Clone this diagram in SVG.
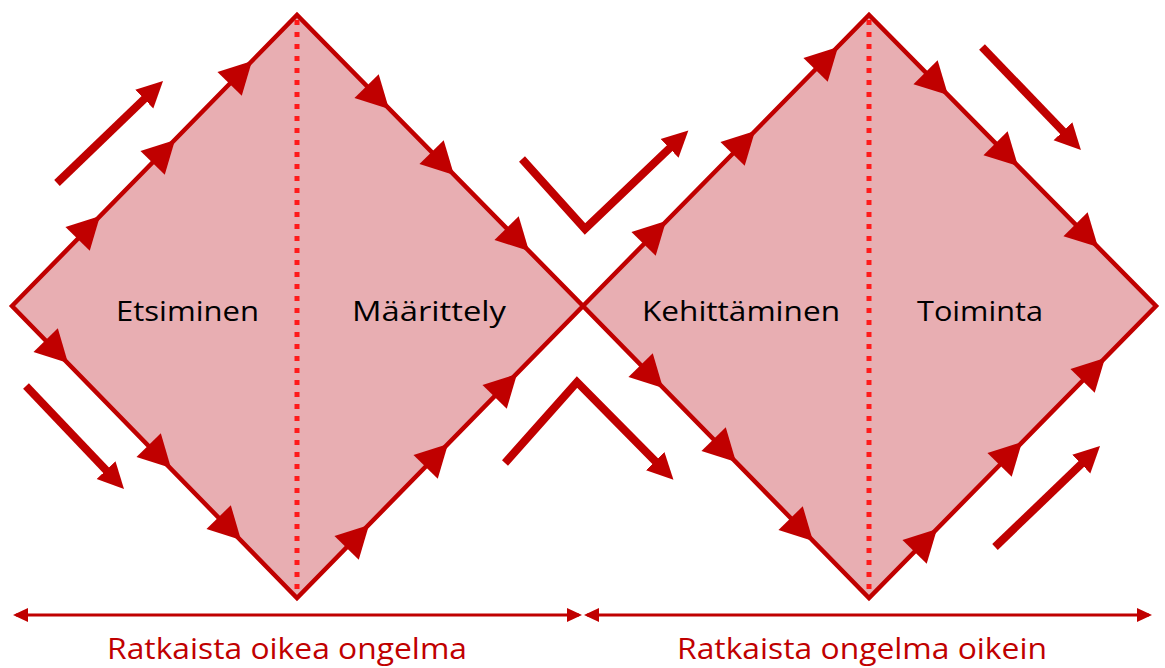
<svg xmlns="http://www.w3.org/2000/svg" xmlns:xlink="http://www.w3.org/1999/xlink" width="1165" height="668" viewBox="0 0 1165 668">
  <style>
    .diamond { fill: #E8AEB2; stroke: #C00000; stroke-width: 4.5; stroke-linejoin: miter; }
    .divider { fill: none; stroke: #FF1A1A; stroke-width: 5; stroke-dasharray: 5 7; }
    .head { fill: #C00000; }
    .flow { fill: none; stroke: #C00000; stroke-width: 8; stroke-linejoin: miter; stroke-linecap: butt; marker-end: url(#bigHead); }
    .span { fill: none; stroke: #C00000; stroke-width: 3; marker-start: url(#smallHead); marker-end: url(#smallHead); }
    .phase { font-family: "Open Sans", Lato, "Liberation Sans", sans-serif; font-size: 28px; fill: #000; text-anchor: middle; }
    .goal { font-family: "Open Sans", Lato, "Liberation Sans", sans-serif; font-size: 30px; fill: #C00000; text-anchor: middle; }
  </style>
  <defs>
    <!-- triangular arrowhead sitting on a diamond edge, tip at the origin pointing along +x -->
    <path id="edgeHead" class="head" d="M0,0 L-32,-17 L-32,17 Z"/>
    <marker id="bigHead" markerUnits="userSpaceOnUse" markerWidth="28" markerHeight="28" viewBox="0 -14 28 28" refX="6" refY="0" orient="auto">
      <path d="M0,-13 L26,0 L0,13 Z" fill="#C00000"/>
    </marker>
    <marker id="smallHead" markerUnits="userSpaceOnUse" markerWidth="16" markerHeight="16" viewBox="0 -8 16 16" refX="12" refY="0" orient="auto-start-reverse">
      <path d="M0,-7 L15,0 L0,7 Z" fill="#C00000"/>
    </marker>
  </defs>

  <!-- first diamond: problem space -->
  <g id="diamond-problem">
    <path class="diamond" d="M12,306 L297,15 L583,306 L297,598 Z"/>
    <line class="divider" x1="297" y1="20" x2="297" y2="594"/>
    <use xlink:href="#edgeHead" transform="translate(100,216) rotate(-45.6)"/>
    <use xlink:href="#edgeHead" transform="translate(175,140) rotate(-45.6)"/>
    <use xlink:href="#edgeHead" transform="translate(252,61) rotate(-45.6)"/>
    <use xlink:href="#edgeHead" transform="translate(68,363) rotate(45.7)"/>
    <use xlink:href="#edgeHead" transform="translate(171,468) rotate(45.7)"/>
    <use xlink:href="#edgeHead" transform="translate(241,540) rotate(45.7)"/>
    <use xlink:href="#edgeHead" transform="translate(389,109) rotate(45.5)"/>
    <use xlink:href="#edgeHead" transform="translate(454,175) rotate(45.5)"/>
    <use xlink:href="#edgeHead" transform="translate(529,251) rotate(45.5)"/>
    <use xlink:href="#edgeHead" transform="translate(369,525) rotate(-45.6)"/>
    <use xlink:href="#edgeHead" transform="translate(448,444) rotate(-45.6)"/>
    <use xlink:href="#edgeHead" transform="translate(517,374) rotate(-45.6)"/>
  </g>
  <g id="label-etsiminen"><text class="phase" x="187.5" y="321" textLength="143" lengthAdjust="spacingAndGlyphs">Etsiminen</text></g>
  <g id="label-maarittely"><text class="phase" x="429" y="321" textLength="154" lengthAdjust="spacingAndGlyphs">Määrittely</text></g>

  <!-- second diamond: solution space -->
  <g id="diamond-solution">
    <path class="diamond" d="M583,306 L869,15 L1156,306 L869,598 Z"/>
    <line class="divider" x1="869" y1="20" x2="869" y2="594"/>
    <use xlink:href="#edgeHead" transform="translate(666,221) rotate(-45.5)"/>
    <use xlink:href="#edgeHead" transform="translate(755,131) rotate(-45.5)"/>
    <use xlink:href="#edgeHead" transform="translate(838,47) rotate(-45.5)"/>
    <use xlink:href="#edgeHead" transform="translate(663,388) rotate(45.6)"/>
    <use xlink:href="#edgeHead" transform="translate(736,462) rotate(45.6)"/>
    <use xlink:href="#edgeHead" transform="translate(813,541) rotate(45.6)"/>
    <use xlink:href="#edgeHead" transform="translate(948,95) rotate(45.4)"/>
    <use xlink:href="#edgeHead" transform="translate(1018,166) rotate(45.4)"/>
    <use xlink:href="#edgeHead" transform="translate(1098,247) rotate(45.4)"/>
    <use xlink:href="#edgeHead" transform="translate(937,529) rotate(-45.5)"/>
    <use xlink:href="#edgeHead" transform="translate(1022,442) rotate(-45.5)"/>
    <use xlink:href="#edgeHead" transform="translate(1105,358) rotate(-45.5)"/>
  </g>
  <g id="label-kehittaminen"><text class="phase" x="741" y="321" textLength="198" lengthAdjust="spacingAndGlyphs">Kehittäminen</text></g>
  <g id="label-toiminta"><text class="phase" x="980" y="321" textLength="126" lengthAdjust="spacingAndGlyphs">Toiminta</text></g>

  <!-- diverge / converge flow arrows and the bottom spans -->
  <g id="connectors">
    <path class="flow" d="M57,183 L148.6,94.9"/>
    <path class="flow" d="M26,386 L110.2,474.5"/>
    <path class="flow" d="M522,159 L585,229 L673.9,144.2"/>
    <path class="flow" d="M505,463 L577,382 L659.4,465.4"/>
    <path class="flow" d="M982,47 L1067.1,135.6"/>
    <path class="flow" d="M995,547 L1085.6,459.9"/>
    <line class="span" x1="16" y1="615" x2="579" y2="615"/>
    <line class="span" x1="587" y1="615" x2="1149" y2="615"/>
  </g>
  <g id="label-goal-left"><text class="goal" x="287" y="659" textLength="360" lengthAdjust="spacingAndGlyphs">Ratkaista oikea ongelma</text></g>
  <g id="label-goal-right"><text class="goal" x="862" y="659" textLength="370" lengthAdjust="spacingAndGlyphs">Ratkaista ongelma oikein</text></g>
</svg>
